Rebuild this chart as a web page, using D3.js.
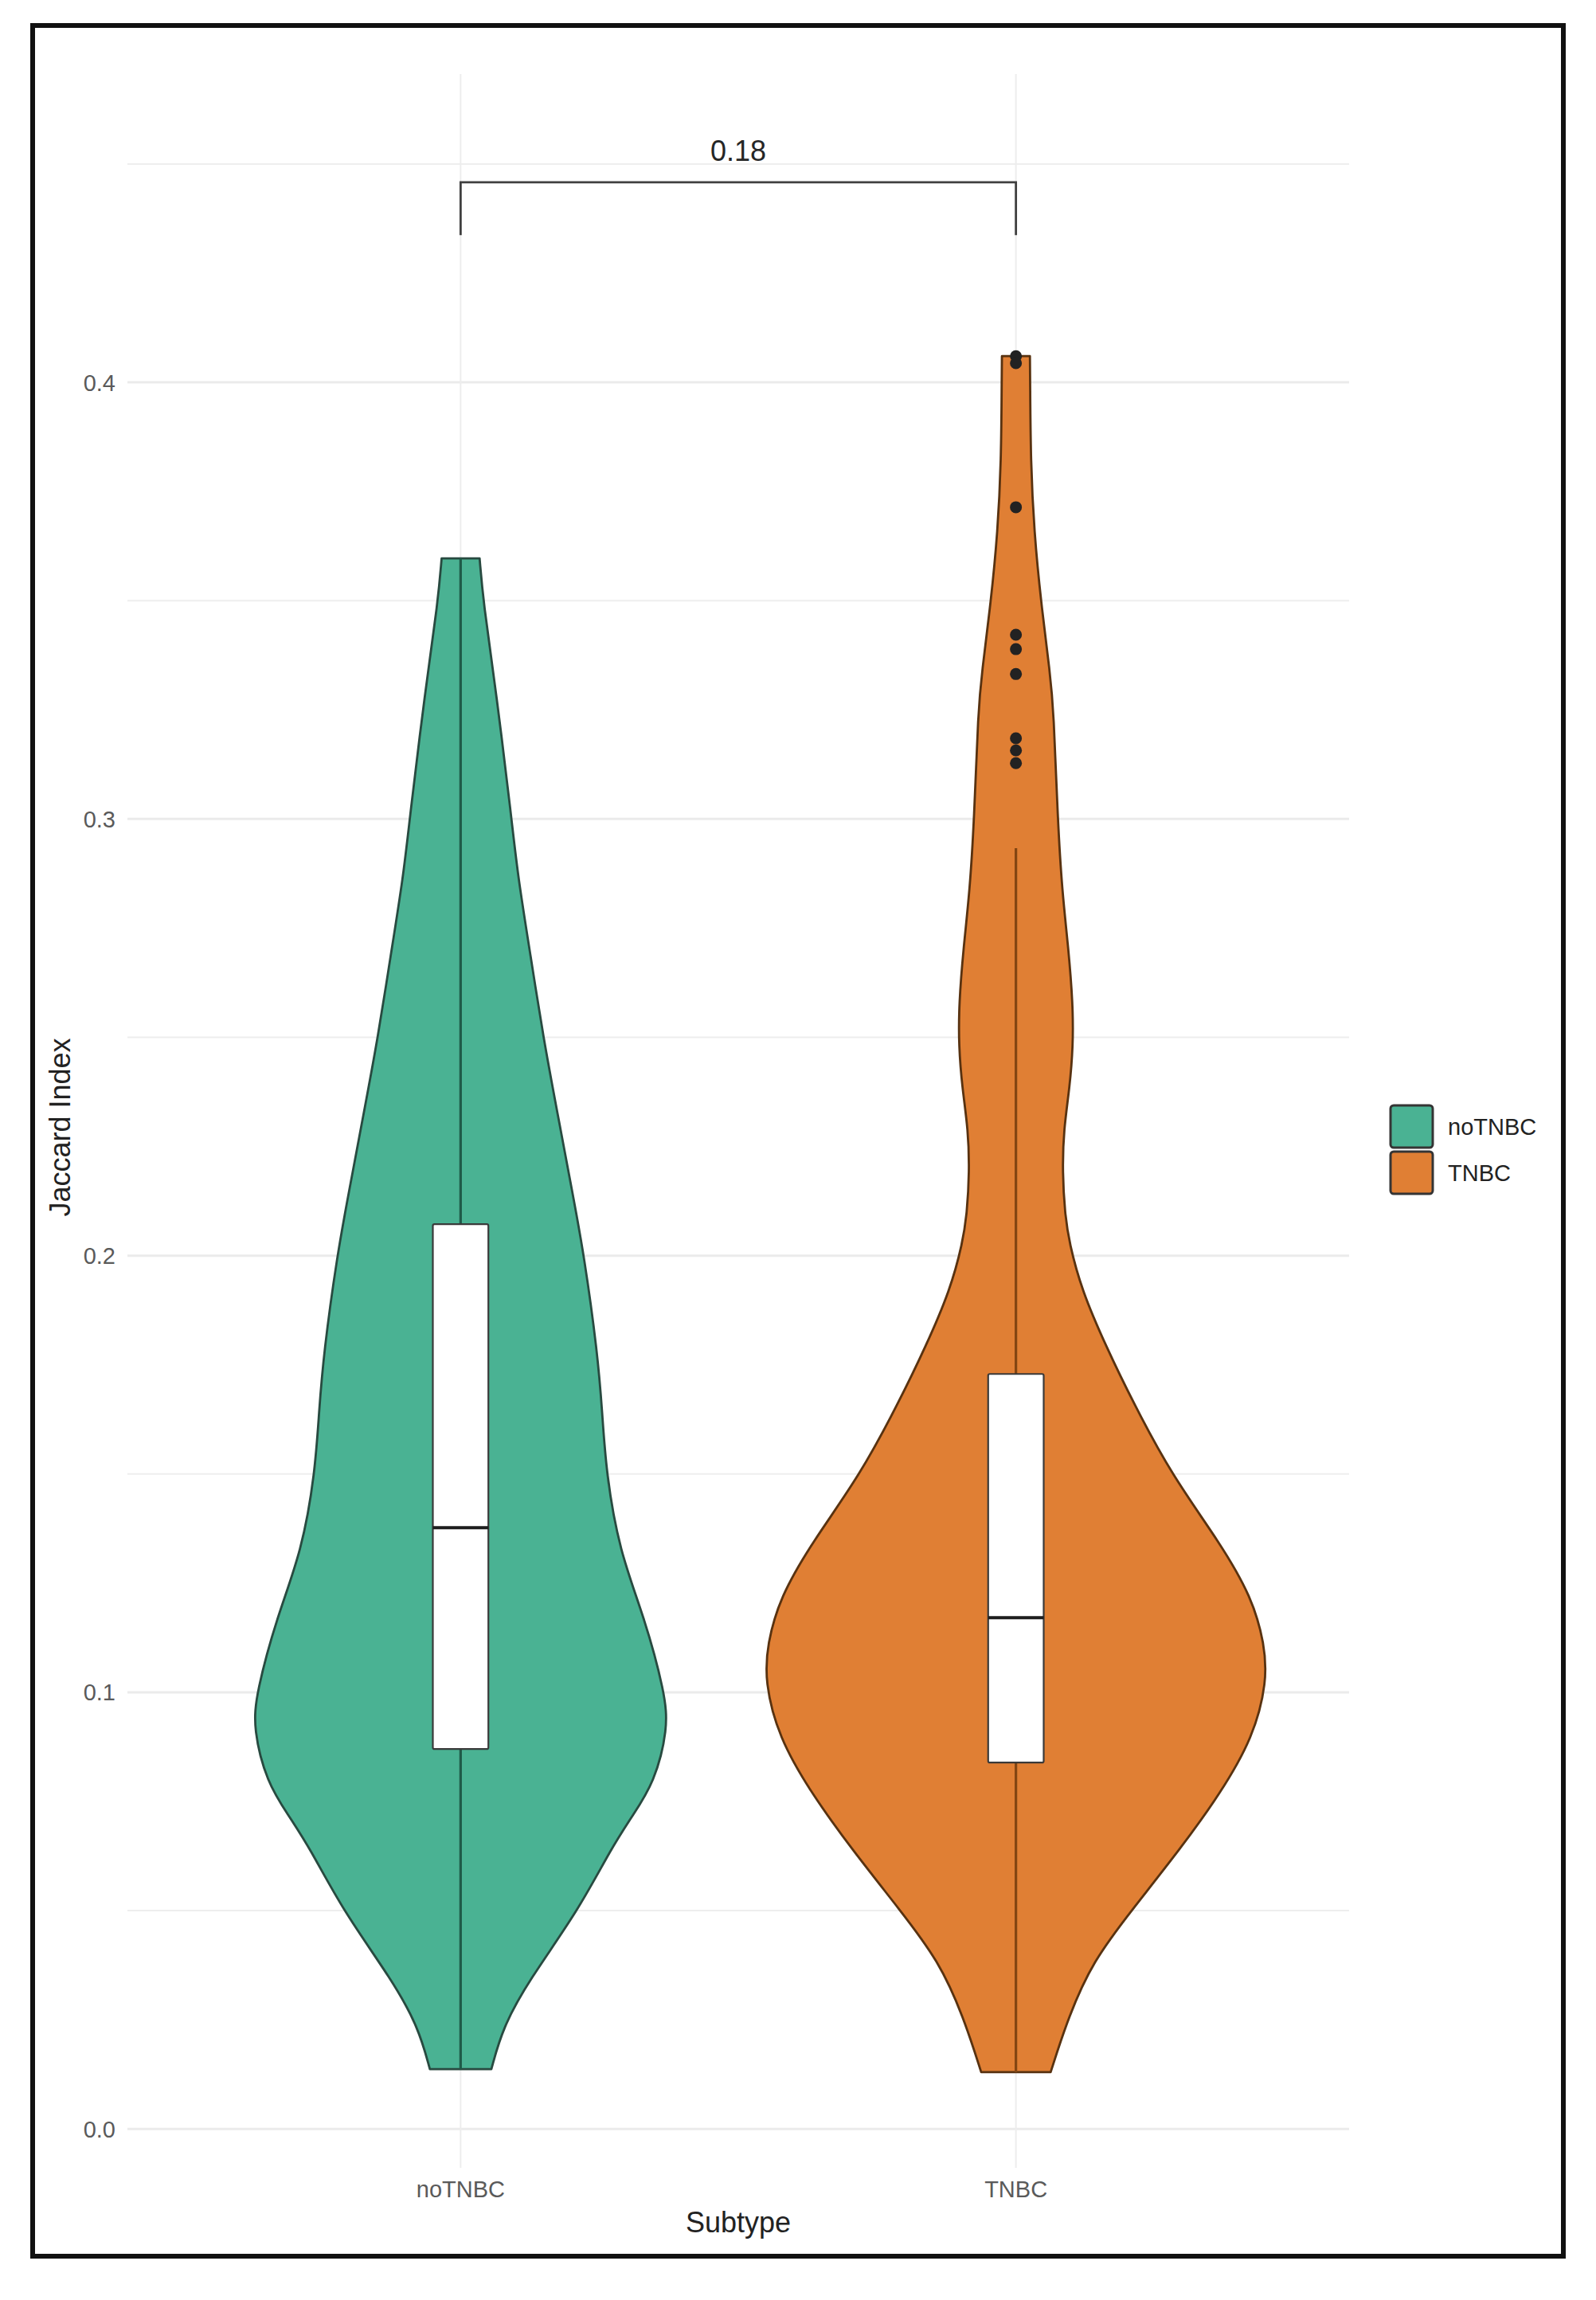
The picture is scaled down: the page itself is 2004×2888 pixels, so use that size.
<!DOCTYPE html>
<html>
<head>
<meta charset="utf-8">
<script src="https://cdn.jsdelivr.net/npm/d3@7"></script>
<style>
  html, body { margin: 0; padding: 0; background: #ffffff; }
  svg { display: block; }
  text { font-family: "Liberation Sans", Arial, "DejaVu Sans", sans-serif; }
</style>
</head>
<body>
<svg id="chart" width="2004" height="2888"></svg>
<script>
// ---------------- data ----------------
const categories = ["noTNBC", "TNBC"];
const fillColors = ["#4AB293", "#E07F34"];
const yTicks = [0.0, 0.1, 0.2, 0.3, 0.4];
const yMinorTicks = [0.05, 0.15, 0.25, 0.35, 0.45];
const yTickLabels = ["0.0", "0.1", "0.2", "0.3", "0.4"];

// violin density profiles: Jaccard value and relative half-width (1 = widest)
const noTNBC_values = [0.3597, 0.3495, 0.3289, 0.3000, 0.2869, 0.2687, 0.2499, 0.2322, 0.2140, 0.2001,
  0.1777, 0.1640, 0.1505, 0.1324, 0.1173, 0.0998, 0.0916, 0.0793, 0.0719, 0.0645, 0.0500, 0.0341, 0.0233, 0.0137];
const noTNBC_width = [0.076, 0.091, 0.143, 0.204, 0.229, 0.280, 0.331, 0.389, 0.449, 0.494,
  0.548, 0.567, 0.582, 0.635, 0.735, 0.818, 0.830, 0.775, 0.690, 0.605, 0.471, 0.274, 0.169, 0.123];

const TNBC_values = [0.4060, 0.4000, 0.3819, 0.3657, 0.3498, 0.3332, 0.3250, 0.2999, 0.2833, 0.2705,
  0.2577, 0.2481, 0.2384, 0.2289, 0.2192, 0.2096, 0.2030, 0.1921, 0.1793, 0.1665, 0.1497, 0.1344,
  0.1217, 0.1110, 0.1025, 0.0897, 0.0768, 0.0640, 0.0500, 0.0385, 0.0257, 0.0130];
const TNBC_width = [0.056, 0.057, 0.059, 0.073, 0.100, 0.137, 0.151, 0.167, 0.185, 0.210,
  0.228, 0.229, 0.215, 0.191, 0.186, 0.196, 0.213, 0.263, 0.360, 0.468, 0.624, 0.815,
  0.945, 0.995, 1.005, 0.950, 0.818, 0.656, 0.462, 0.309, 0.210, 0.139];

// boxplot statistics per category
const whiskerLow  = [0.0137, 0.0130];
const q1          = [0.0870, 0.0839];
const median      = [0.1377, 0.1171];
const q3          = [0.2072, 0.1729];
const whiskerHigh = [0.3597, 0.2933];
const TNBC_outliers = [0.4060, 0.4044, 0.3714, 0.3422, 0.3389, 0.3332, 0.3185, 0.3157, 0.3128];

// significance bracket
const pLabel = "0.18";
const bracketTop = 0.4458;
const bracketLeg = 0.4337;

// ---------------- layout ----------------
const svg = d3.select("#chart");
svg.append("rect").attr("width", 2004).attr("height", 2888).attr("fill", "#ffffff");

const panel = { left: 160, right: 1694, top: 93, bottom: 2722 };

const x = d3.scalePoint().domain(categories).range([panel.left, panel.right]).padding(0.6);
const y = d3.scaleLinear().domain([-0.0089, 0.4706]).range([panel.bottom, panel.top]);
const step = x.step();
const halfW = d3.scaleLinear().domain([0, 1]).range([0, 0.45 * step]);
const boxHalf = 0.05 * step;

// gridlines
const grid = svg.append("g");
grid.selectAll("line.minor").data(yMinorTicks).join("line")
  .attr("x1", panel.left).attr("x2", panel.right)
  .attr("y1", d => y(d)).attr("y2", d => y(d))
  .attr("stroke", "#eeeeee").attr("stroke-width", 2);
grid.selectAll("line.major").data(yTicks).join("line")
  .attr("x1", panel.left).attr("x2", panel.right)
  .attr("y1", d => y(d)).attr("y2", d => y(d))
  .attr("stroke", "#ebebeb").attr("stroke-width", 3);
grid.selectAll("line.vert").data(categories).join("line")
  .attr("x1", d => x(d)).attr("x2", d => x(d))
  .attr("y1", panel.top).attr("y2", panel.bottom)
  .attr("stroke", "#ededed").attr("stroke-width", 2);

// violins
const profiles = [
  noTNBC_values.map((v, i) => ({ v, w: noTNBC_width[i] })),
  TNBC_values.map((v, i) => ({ v, w: TNBC_width[i] }))
];
const outlineColors = ["#284a40", "#583210"];
const whiskerColors = ["#1f5a48", "#824512"];

categories.forEach((cat, i) => {
  const cx = x(cat);
  const area = d3.area()
    .y(d => y(d.v))
    .x0(d => cx - halfW(d.w))
    .x1(d => cx + halfW(d.w))
    .curve(d3.curveBasis);
  svg.append("path").datum(profiles[i])
    .attr("d", area)
    .attr("fill", fillColors[i])
    .attr("stroke", outlineColors[i])
    .attr("stroke-width", 2.8)
    .attr("stroke-linejoin", "round");
});

// boxplots
categories.forEach((cat, i) => {
  const cx = x(cat);
  const g = svg.append("g");
  g.append("line")
    .attr("x1", cx).attr("x2", cx)
    .attr("y1", y(whiskerHigh[i])).attr("y2", y(q3[i]))
    .attr("stroke", whiskerColors[i]).attr("stroke-width", 3.2);
  g.append("line")
    .attr("x1", cx).attr("x2", cx)
    .attr("y1", y(q1[i])).attr("y2", y(whiskerLow[i]))
    .attr("stroke", whiskerColors[i]).attr("stroke-width", 3.2);
  g.append("rect")
    .attr("x", cx - boxHalf).attr("width", 2 * boxHalf)
    .attr("y", y(q3[i])).attr("height", y(q1[i]) - y(q3[i]))
    .attr("rx", 2)
    .attr("fill", "#ffffff").attr("stroke", "#3a3a3a").attr("stroke-width", 2.2);
  g.append("line")
    .attr("x1", cx - boxHalf).attr("x2", cx + boxHalf)
    .attr("y1", y(median[i])).attr("y2", y(median[i]))
    .attr("stroke", "#1e1e1e").attr("stroke-width", 4);
});

// outliers
svg.append("g").selectAll("circle").data(TNBC_outliers).join("circle")
  .attr("cx", x("TNBC")).attr("cy", d => y(d)).attr("r", 7.5)
  .attr("fill", "#222222");

// significance bracket
const bx1 = x(categories[0]), bx2 = x(categories[1]);
svg.append("path")
  .attr("d", `M${bx1},${y(bracketLeg)}V${y(bracketTop)}H${bx2}V${y(bracketLeg)}`)
  .attr("fill", "none").attr("stroke", "#404040").attr("stroke-width", 2.8);
svg.append("text")
  .attr("x", (bx1 + bx2) / 2).attr("y", y(bracketTop) - 27)
  .attr("text-anchor", "middle")
  .attr("font-size", 36).attr("fill", "#262626")
  .text(pLabel);

// y axis tick labels
svg.append("g").selectAll("text").data(yTicks).join("text")
  .attr("x", 145).attr("y", d => y(d)).attr("dy", "0.36em")
  .attr("text-anchor", "end")
  .attr("font-size", 29).attr("fill", "#5a5a5a")
  .text((d, i) => yTickLabels[i]);

// x axis tick labels
svg.append("g").selectAll("text").data(categories).join("text")
  .attr("x", d => x(d)).attr("y", 2759)
  .attr("text-anchor", "middle")
  .attr("font-size", 29).attr("fill", "#5a5a5a")
  .text(d => d);

// axis titles
svg.append("text")
  .attr("x", (panel.left + panel.right) / 2).attr("y", 2803)
  .attr("text-anchor", "middle")
  .attr("font-size", 36).attr("fill", "#222222")
  .text("Subtype");
svg.append("text")
  .attr("transform", `translate(88, ${(panel.top + panel.bottom) / 2 + 8}) rotate(-90)`)
  .attr("text-anchor", "middle")
  .attr("font-size", 36).attr("fill", "#222222")
  .text("Jaccard Index");

// legend
const legend = svg.append("g").attr("transform", "translate(1746, 1388)");
categories.forEach((cat, i) => {
  legend.append("rect")
    .attr("x", 0).attr("y", i * 58).attr("width", 53).attr("height", 53)
    .attr("rx", 4)
    .attr("fill", fillColors[i]).attr("stroke", "#353535").attr("stroke-width", 3);
  legend.append("text")
    .attr("x", 72).attr("y", i * 58 + 27).attr("dy", "0.36em")
    .attr("font-size", 29).attr("fill", "#222222")
    .text(cat);
});

// outer frame
svg.append("rect")
  .attr("x", 41).attr("y", 32).attr("width", 1922).attr("height", 2801)
  .attr("fill", "none").attr("stroke", "#111111").attr("stroke-width", 6);
</script>
</body>
</html>
